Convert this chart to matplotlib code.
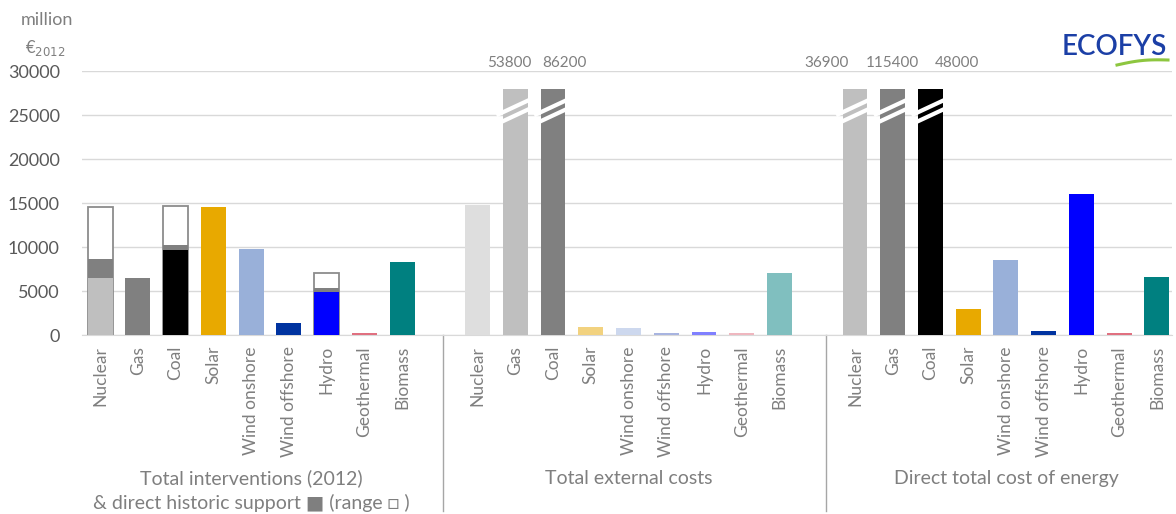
import matplotlib
matplotlib.use("Agg")
import matplotlib.pyplot as plt
import numpy as np

plt.rcParams['font.family'] = ['Lato', 'DejaVu Sans']

categories = ['Nuclear', 'Gas', 'Coal', 'Solar', 'Wind onshore', 'Wind offshore',
              'Hydro', 'Geothermal', 'Biomass']
group_titles = ['Total interventions (2012)\n& direct historic support \u25A0 (range \u25A1 )',
                'Total external costs',
                'Direct total cost of energy']

# panel 1: total interventions 2012, plus direct historic support and its range
interventions = [6500, 6500, 9700, 14600, 9800, 1400, 4900, 250, 8300]
historic_support = [8600, 0, 10200, 0, 0, 0, 5300, 0, 0]
historic_range = [14600, 0, 14700, 0, 0, 0, 7100, 0, 0]

# panel 2 and 3
external_costs = [14800, 53800, 86200, 900, 750, 200, 350, 200, 7100]
direct_costs = [36900, 115400, 48000, 3000, 8500, 500, 16000, 250, 6600]

colors_main = ['#bfbfbf', '#808080', '#000000', '#e8a900', '#99b0d9', '#0033a0',
               '#0000ff', '#e07080', '#008080']
colors_ext = ['#dedede', '#bfbfbf', '#808080', '#f2d27f', '#cdd8ee', '#a8b4e0',
              '#8080ff', '#efb7bf', '#80bfbf']

cap = 28000
grey_txt = '#7f7f7f'

fig = plt.figure(figsize=(11.76, 5.14), dpi=100)
ax = fig.add_axes([82/1176, 179/514, 1090/1176, 264/514])

offsets = [0, 10, 20]
width = 0.66
x1 = np.arange(9) + offsets[0]
x2 = np.arange(9) + offsets[1]
x3 = np.arange(9) + offsets[2]

# panel 1
for i in range(9):
    if historic_range[i] > 0:
        ax.bar(x1[i], historic_range[i], width, color='white', edgecolor='#8c8c8c',
               linewidth=1.3, zorder=2)
        ax.bar(x1[i], historic_support[i], width, color='#808080', zorder=3)
    ax.bar(x1[i], interventions[i], width, color=colors_main[i], zorder=4)

# label shift so that the numbers don't run into each other (as in original)
label_shift = {(10, 1): -0.15, (10, 2): 0.3, (20, 0): -0.75, (20, 1): 0.0, (20, 2): 0.7}


def broken_bars(xs, vals, cols, off):
    for i, (x, v, c) in enumerate(zip(xs, vals, cols)):
        h = min(v, cap)
        ax.bar(x, h, width, color=c, zorder=3)
        if v > cap:
            ax.plot([x - 0.5, x + 0.5], [23950, 25950], color='white', lw=3,
                    solid_capstyle='butt', zorder=5)
            ax.plot([x - 0.5, x + 0.5], [24970, 26970], color='white', lw=3,
                    solid_capstyle='butt', zorder=5)
            ax.text(x + label_shift.get((off, i), 0), 30900, str(v), ha='center',
                    va='center', fontsize=11, color=grey_txt, clip_on=False)


broken_bars(x2, external_costs, colors_ext, 10)
broken_bars(x3, direct_costs, colors_main, 20)

ax.set_xlim(-0.48, 28.4)
ax.set_ylim(0, 30000)
ax.set_yticks(np.arange(0, 30001, 5000))
ax.set_yticklabels([str(v) for v in range(0, 30001, 5000)])
ax.yaxis.grid(True, color='#d9d9d9', lw=1)
ax.set_axisbelow(True)
for s in ['top', 'right', 'left']:
    ax.spines[s].set_visible(False)
ax.spines['bottom'].set_color('#d9d9d9')
ax.tick_params(axis='y', length=0, labelsize=13, labelcolor='#595959', pad=16)

ax.set_xticks(np.concatenate([x1, x2, x3]))
ax.set_xticklabels(categories * 3, rotation=90, fontsize=12.5, color=grey_txt)
ax.tick_params(axis='x', length=0, pad=8)

# separators between groups
for xs in [9.08, 19.23]:
    ax.plot([xs, xs], [0, -20000], color='#a6a6a6', lw=1, clip_on=False)

# group titles
ax.text(4, -15300, group_titles[0], ha='center', va='top', fontsize=14,
        color=grey_txt, linespacing=1.45, clip_on=False)
ax.text(14, -15300, group_titles[1], ha='center', va='top', fontsize=14,
        color=grey_txt, clip_on=False)
ax.text(24, -15300, group_titles[2], ha='center', va='top', fontsize=14,
        color=grey_txt, clip_on=False)

# unit label
fig.text(47/1176, 1 - 20/514, 'million', ha='center', va='center', fontsize=13,
         color=grey_txt)
fig.text(45/1176, 1 - 48/514, r'€$_{2012}$', ha='center', va='center', fontsize=12,
         color=grey_txt)

# logo
fig.text(1114/1176, 1 - 47/514, 'ECOFYS', ha='center', va='center', fontsize=20,
         color='#1b3fa6', fontweight='semibold')
t = np.linspace(0, 1, 30)
fig.add_artist(plt.Line2D((1117 + 51*t)/1176, 1 - (65 - 5*t - 2*np.sin(np.pi*t))/514,
                          color='#8dc63f', lw=2.2))

fig.savefig('out.png', dpi=100)
